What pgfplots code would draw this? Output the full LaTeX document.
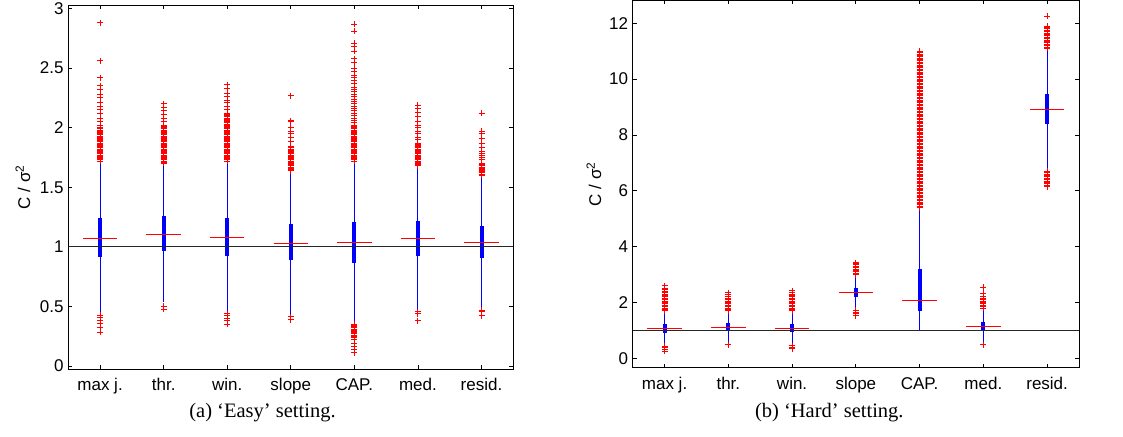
\documentclass[border=0pt]{standalone}
\usepackage{fontspec}
\setmainfont{Liberation Serif}
\newfontfamily\sansf{Liberation Sans}
\usepackage{pgfplots}
\pgfplotsset{compat=1.18}
\pgfplotsset{
  boxax/.style={
    scale only axis, anchor=south west,
    xmin=0.5, xmax=7.5,
    xtick={1,2,3,4,5,6,7},
    xticklabels={max j.,thr.,win.,slope,CAP.,med.,resid.},
    tick align=inside, major tick length=4pt,
    axis line style={black, line width=0.9pt},
    every tick/.style={black, line width=0.8pt},
    ticklabel style={font=\sansf\fontsize{17}{17}\selectfont},
    xticklabel style={anchor=base, inner sep=0pt, yshift=-21.5pt},
    yticklabel style={anchor=east, inner sep=0pt, xshift=-4.5pt},
    /pgf/number format/assume math mode=true,
    scaled y ticks=false,
    ylabel={C / σ\textsuperscript{2}},
  },
  whisk/.style={blue, line width=1pt},
  bx/.style={blue, line width=4pt},
  medl/.style={red, line width=1pt},
  outl/.style={only marks, mark=+, color=red, mark size=3pt, mark options={draw=red, color=red, line width=1pt}},
  hline/.style={black!85, line width=1.1pt},
}
\begin{document}
\begin{tikzpicture}
\path[use as bounding box] (0pt,0pt) rectangle (1123pt,436pt);

% ---------------- (a) Easy ----------------
\begin{axis}[boxax, at={(68.3pt,67pt)}, width=445pt, height=363.7pt,
  ymin=-0.025, ymax=3.027, ytick={0,0.5,1,1.5,2,2.5,3},
  every axis y label/.style={at={(axis description cs:-0.102,0.5)}, rotate=90, anchor=center, font=\sansf\fontsize{17}{17}\selectfont}]
% whiskers
\addplot[whisk] coordinates {(1,0.442) (1,1.715)};
\addplot[whisk] coordinates {(2,0.540) (2,1.700)};
\addplot[whisk] coordinates {(3,0.456) (3,1.715)};
\addplot[whisk] coordinates {(4,0.428) (4,1.631)};
\addplot[whisk] coordinates {(5,0.358) (5,1.715)};
\addplot[whisk] coordinates {(6,0.470) (6,1.673)};
\addplot[whisk] coordinates {(7,0.476) (7,1.589)};
% boxes
\addplot[bx] coordinates {(1,0.917) (1,1.239)};
\addplot[bx] coordinates {(2,0.968) (2,1.259)};
\addplot[bx] coordinates {(3,0.923) (3,1.239)};
\addplot[bx] coordinates {(4,0.889) (4,1.189)};
\addplot[bx] coordinates {(5,0.867) (5,1.211)};
\addplot[bx] coordinates {(6,0.923) (6,1.220)};
\addplot[bx] coordinates {(7,0.903) (7,1.178)};
% reference line
\addplot[hline] coordinates {(0.5,1) (7.5,1)};
% medians
\addplot[medl] coordinates {(0.73,1.071) (1.27,1.071)};
\addplot[medl] coordinates {(1.73,1.105) (2.27,1.105)};
\addplot[medl] coordinates {(2.73,1.077) (3.27,1.077)};
\addplot[medl] coordinates {(3.73,1.029) (4.27,1.029)};
\addplot[medl] coordinates {(4.73,1.035) (5.27,1.035)};
\addplot[medl] coordinates {(5.73,1.066) (6.27,1.066)};
\addplot[medl] coordinates {(6.73,1.038) (7.27,1.038)};
% outliers
\addplot[outl] coordinates {
(1,1.72)(1,1.73)(1,1.74)(1,1.75)(1,1.76)(1,1.77)(1,1.78)(1,1.79)(1,1.80)(1,1.81)
(1,1.82)(1,1.83)(1,1.84)(1,1.85)(1,1.86)(1,1.87)(1,1.88)(1,1.89)(1,1.90)(1,1.91)
(1,1.92)(1,1.93)(1,1.94)(1,1.95)(1,1.96)(1,1.97)(1,1.98)(1,1.99)(1,2.00)(1,2.02)
(1,2.05)(1,2.08)(1,2.12)(1,2.15)(1,2.18)(1,2.21)(1,2.25)(1,2.28)(1,2.32)(1,2.35)
(1,2.42)(1,2.56)(1,2.88)
(1,0.428)(1,0.408)(1,0.380)(1,0.358)(1,0.324)(1,0.283)};
\addplot[outl] coordinates {
(2,1.70)(2,1.71)(2,1.72)(2,1.73)(2,1.74)(2,1.75)(2,1.76)(2,1.77)(2,1.78)(2,1.79)
(2,1.80)(2,1.81)(2,1.82)(2,1.83)(2,1.84)(2,1.85)(2,1.86)(2,1.87)(2,1.88)(2,1.89)
(2,1.90)(2,1.91)(2,1.92)(2,1.93)(2,1.94)(2,1.95)(2,1.96)(2,1.97)(2,1.98)(2,1.99)
(2,2.00)(2,2.01)(2,2.02)(2,2.05)(2,2.08)(2,2.11)(2,2.14)(2,2.17)(2,2.20)
(2,0.503)(2,0.476)};
\addplot[outl] coordinates {
(3,1.72)(3,1.73)(3,1.74)(3,1.75)(3,1.76)(3,1.77)(3,1.78)(3,1.79)(3,1.80)(3,1.81)
(3,1.82)(3,1.83)(3,1.84)(3,1.85)(3,1.86)(3,1.87)(3,1.88)(3,1.89)(3,1.90)(3,1.91)
(3,1.92)(3,1.93)(3,1.94)(3,1.95)(3,1.96)(3,1.97)(3,1.98)(3,1.99)(3,2.00)(3,2.01)
(3,2.02)(3,2.03)(3,2.04)(3,2.05)(3,2.06)(3,2.07)(3,2.08)(3,2.09)(3,2.10)(3,2.11)
(3,2.12)(3,2.15)(3,2.18)(3,2.21)(3,2.23)(3,2.26)(3,2.29)(3,2.33)(3,2.36)
(3,0.44)(3,0.42)(3,0.40)(3,0.38)(3,0.35)};
\addplot[outl] coordinates {
(4,1.64)(4,1.65)(4,1.66)(4,1.67)(4,1.68)(4,1.69)(4,1.70)(4,1.71)(4,1.72)(4,1.73)
(4,1.74)(4,1.75)(4,1.76)(4,1.77)(4,1.78)(4,1.79)(4,1.80)(4,1.81)(4,1.82)(4,1.83)
(4,1.84)(4,1.88)(4,1.92)(4,1.95)(4,1.97)(4,2.00)(4,2.05)(4,2.06)(4,2.27)
(4,0.414)(4,0.39)};
\addplot[outl] coordinates {
(5,1.72)(5,1.73)(5,1.74)(5,1.75)(5,1.76)(5,1.77)(5,1.78)(5,1.79)(5,1.80)(5,1.81)
(5,1.82)(5,1.83)(5,1.84)(5,1.85)(5,1.86)(5,1.87)(5,1.88)(5,1.89)(5,1.90)(5,1.91)
(5,1.92)(5,1.93)(5,1.94)(5,1.95)(5,1.96)(5,1.97)(5,1.98)(5,1.99)(5,2.00)(5,2.01)
(5,2.02)(5,2.04)(5,2.06)(5,2.08)(5,2.10)(5,2.12)(5,2.14)(5,2.16)(5,2.18)(5,2.20)
(5,2.22)(5,2.24)(5,2.26)(5,2.28)(5,2.30)(5,2.32)(5,2.34)(5,2.37)(5,2.40)(5,2.42)
(5,2.44)(5,2.47)(5,2.50)(5,2.55)(5,2.58)(5,2.64)(5,2.68)(5,2.71)(5,2.81)(5,2.87)
(5,0.24)(5,0.25)(5,0.26)(5,0.27)(5,0.28)(5,0.29)(5,0.30)(5,0.31)(5,0.32)(5,0.33)
(5,0.34)(5,0.35)(5,0.22)(5,0.19)(5,0.16)(5,0.14)(5,0.11)};
\addplot[outl] coordinates {
(6,1.68)(6,1.69)(6,1.70)(6,1.71)(6,1.72)(6,1.73)(6,1.74)(6,1.75)(6,1.76)(6,1.77)
(6,1.78)(6,1.79)(6,1.80)(6,1.81)(6,1.82)(6,1.83)(6,1.84)(6,1.85)(6,1.86)(6,1.87)
(6,1.90)(6,1.92)(6,1.95)(6,1.97)(6,2.00)(6,2.02)(6,2.05)(6,2.09)(6,2.13)(6,2.16)
(6,2.19)
(6,0.456)(6,0.44)(6,0.378)};
\addplot[outl] coordinates {
(7,1.60)(7,1.61)(7,1.62)(7,1.63)(7,1.64)(7,1.65)(7,1.66)(7,1.67)(7,1.68)(7,1.69)
(7,1.70)(7,1.73)(7,1.75)(7,1.77)(7,1.78)(7,1.80)(7,1.83)(7,1.87)(7,1.91)(7,1.95)
(7,1.97)(7,2.12)
(7,0.47)(7,0.456)(7,0.42)};
\end{axis}

% ---------------- (b) Hard ----------------
\begin{axis}[boxax, at={(632.7pt,68.3pt)}, width=446.3pt, height=367.3pt,
  ymin=-0.334, ymax=12.82, ytick={0,2,4,6,8,10,12},
  every axis y label/.style={at={(axis description cs:-0.087,0.5)}, rotate=90, anchor=center, font=\sansf\fontsize{17}{17}\selectfont}]
% whiskers
\addplot[whisk] coordinates {(1,0.47) (1,1.67)};
\addplot[whisk] coordinates {(2,0.54) (2,1.69)};
\addplot[whisk] coordinates {(3,0.48) (3,1.69)};
\addplot[whisk] coordinates {(4,1.76) (4,2.97)};
\addplot[whisk] coordinates {(5,0.98) (5,5.37)};
\addplot[whisk] coordinates {(6,0.54) (6,1.73)};
\addplot[whisk] coordinates {(7,6.69) (7,11.10)};
% boxes
\addplot[bx] coordinates {(1,0.92) (1,1.23)};
\addplot[bx] coordinates {(2,0.99) (2,1.25)};
\addplot[bx] coordinates {(3,0.93) (3,1.23)};
\addplot[bx] coordinates {(4,2.21) (4,2.51)};
\addplot[bx] coordinates {(5,1.71) (5,3.19)};
\addplot[bx] coordinates {(6,0.99) (6,1.30)};
\addplot[bx] coordinates {(7,8.38) (7,9.47)};
% reference line
\addplot[hline] coordinates {(0.5,1) (7.5,1)};
% medians
\addplot[medl] coordinates {(0.73,1.07) (1.27,1.07)};
\addplot[medl] coordinates {(1.73,1.11) (2.27,1.11)};
\addplot[medl] coordinates {(2.73,1.07) (3.27,1.07)};
\addplot[medl] coordinates {(3.73,2.35) (4.27,2.35)};
\addplot[medl] coordinates {(4.73,2.09) (5.27,2.09)};
\addplot[medl] coordinates {(5.73,1.13) (6.27,1.13)};
\addplot[medl] coordinates {(6.73,8.93) (7.27,8.93)};
% outliers
\addplot[outl] coordinates {
(1,1.70)(1,1.75)(1,1.80)(1,1.85)(1,1.90)(1,1.95)(1,2.00)(1,2.05)(1,2.10)(1,2.15)
(1,2.20)(1,2.25)(1,2.30)(1,2.35)(1,2.40)(1,2.45)(1,2.50)(1,2.60)
(1,0.44)(1,0.38)(1,0.32)(1,0.25)};
\addplot[outl] coordinates {
(2,1.70)(2,1.75)(2,1.80)(2,1.85)(2,1.90)(2,1.95)(2,2.00)(2,2.05)(2,2.10)(2,2.15)
(2,2.20)(2,2.30)(2,2.35)
(2,0.48)};
\addplot[outl] coordinates {
(3,1.70)(3,1.75)(3,1.80)(3,1.85)(3,1.90)(3,1.95)(3,2.00)(3,2.05)(3,2.10)(3,2.15)
(3,2.20)(3,2.25)(3,2.30)(3,2.35)(3,2.42)
(3,0.45)(3,0.40)(3,0.35)};
\addplot[outl] coordinates {
(4,3.00)(4,3.05)(4,3.10)(4,3.15)(4,3.20)(4,3.25)(4,3.30)(4,3.35)(4,3.40)(4,3.43)
(4,1.52)(4,1.55)(4,1.60)(4,1.65)(4,1.70)(4,1.73)};
\addplot[outl] coordinates {
(5,5.40)(5,5.45)(5,5.50)(5,5.55)(5,5.60)(5,5.65)(5,5.70)(5,5.75)(5,5.80)(5,5.85)
(5,5.90)(5,5.95)(5,6.00)(5,6.05)(5,6.10)(5,6.15)(5,6.20)(5,6.25)(5,6.30)(5,6.35)
(5,6.40)(5,6.45)(5,6.50)(5,6.55)(5,6.60)(5,6.65)(5,6.70)(5,6.75)(5,6.80)(5,6.85)
(5,6.90)(5,6.95)(5,7.00)(5,7.05)(5,7.10)(5,7.15)(5,7.20)(5,7.25)(5,7.30)(5,7.35)
(5,7.40)(5,7.45)(5,7.50)(5,7.55)(5,7.60)(5,7.65)(5,7.70)(5,7.75)(5,7.80)(5,7.85)
(5,7.90)(5,7.95)(5,8.00)(5,8.05)(5,8.10)(5,8.15)(5,8.20)(5,8.25)(5,8.30)(5,8.35)
(5,8.40)(5,8.45)(5,8.50)(5,8.55)(5,8.60)(5,8.65)(5,8.70)(5,8.75)(5,8.80)(5,8.85)
(5,8.90)(5,8.95)(5,9.00)(5,9.05)(5,9.10)(5,9.15)(5,9.20)(5,9.25)(5,9.30)(5,9.35)
(5,9.40)(5,9.45)(5,9.50)(5,9.55)(5,9.60)(5,9.65)(5,9.70)(5,9.75)(5,9.80)(5,9.85)
(5,9.90)(5,9.95)(5,10.00)(5,10.05)(5,10.10)(5,10.15)(5,10.20)(5,10.25)(5,10.30)(5,10.35)
(5,10.40)(5,10.45)(5,10.50)(5,10.55)(5,10.60)(5,10.65)(5,10.70)(5,10.75)(5,10.80)(5,10.85)
(5,10.90)(5,10.95)(5,11.00)};
\addplot[outl] coordinates {
(6,1.80)(6,1.85)(6,1.90)(6,1.95)(6,2.00)(6,2.05)(6,2.10)(6,2.15)(6,2.20)(6,2.33)
(6,2.54)
(6,0.48)};
\addplot[outl] coordinates {
(7,11.10)(7,11.15)(7,11.20)(7,11.25)(7,11.30)(7,11.35)(7,11.40)(7,11.45)(7,11.50)(7,11.55)
(7,11.60)(7,11.65)(7,11.70)(7,11.75)(7,11.80)(7,11.85)(7,11.90)(7,12.26)
(7,6.15)(7,6.20)(7,6.25)(7,6.30)(7,6.35)(7,6.40)(7,6.45)(7,6.50)(7,6.55)(7,6.60)
(7,6.65)(7,6.70)};
\end{axis}

% captions
\node[font=\fontsize{20.5}{20.5}\selectfont, anchor=base] at (262.5pt,19pt) {(a) ‘Easy’ setting.};
\node[font=\fontsize{20.5}{20.5}\selectfont, anchor=base] at (829.3pt,19pt) {(b) ‘Hard’ setting.};
\end{tikzpicture}
\end{document}
